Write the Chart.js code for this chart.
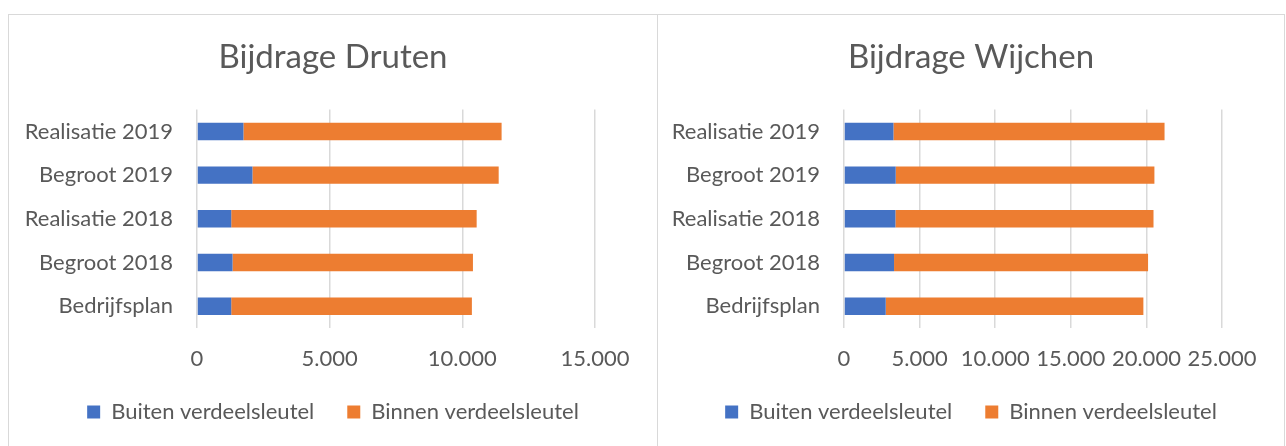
<!DOCTYPE html>
<html>
<head>
<meta charset="utf-8">
<script src="https://cdn.jsdelivr.net/npm/chart.js@4"></script>
<style>
  html, body { margin: 0; padding: 0; background: #fff; overflow: hidden; }
  .box { position: absolute; top: 14px; height: 445px; border: 1px solid #d9d9d9; background: #fff; }
  #boxDruten { left: 8px; width: 648px; }
  #boxWijchen { left: 657px; width: 626px; }
  canvas { display: block; }
</style>
</head>
<body>
<div class="box" id="boxDruten"><canvas id="chartDruten" width="648" height="431"></canvas></div>
<div class="box" id="boxWijchen"><canvas id="chartWijchen" width="626" height="431"></canvas></div>
<script>
const categories = ["Realisatie 2019", "Begroot 2019", "Realisatie 2018", "Begroot 2018", "Bedrijfsplan"];
const seriesNames = ["Buiten verdeelsleutel", "Binnen verdeelsleutel"];

const drutenBuiten = [1750, 2090, 1290, 1340, 1290];
const drutenBinnen = [9730, 9280, 9250, 9060, 9070];

const wijchenBuiten = [3270, 3420, 3400, 3310, 2760];
const wijchenBinnen = [17930, 17110, 17070, 16800, 17040];

const drutenAxisMax = 15000;
const wijchenAxisMax = 25000;
const axisStep = 5000;

const blue = "#4472C4";
const orange = "#ED7D31";
const textGrey = "#595959";
const gridGrey = "#d9d9d9";
const fontFamily = "Lato, 'Open Sans', sans-serif";

const formatThousands = (v) => String(v).replace(/\B(?=(\d{3})+(?!\d))/g, ".");

const makeChart = (canvasId, title, buiten, binnen, axisMax, axisWidth, rightGap) => {
  let ctx = document.getElementById(canvasId).getContext("2d");

  return new Chart(ctx, {
    type: "bar",
    data: {
      labels: categories,
      datasets: [
        {
          label: seriesNames[0],
          data: buiten,
          backgroundColor: blue,
          borderWidth: 0,
        },
        {
          label: seriesNames[1],
          data: binnen,
          backgroundColor: orange,
          borderWidth: 0,
        },
      ],
    },
    options: {
      indexAxis: "y",
      responsive: false,
      animation: false,
      maintainAspectRatio: false,
      layout: {
        padding: { left: 0, right: 0, top: 0, bottom: 13 },
      },
      datasets: {
        bar: {
          categoryPercentage: 1,
          barPercentage: 0.4,
        },
      },
      scales: {
        x: {
          stacked: true,
          min: 0,
          max: axisMax,
          border: { display: false },
          grid: {
            color: gridGrey,
            lineWidth: 1.5,
            drawTicks: false,
          },
          ticks: {
            stepSize: axisStep,
            color: textGrey,
            padding: 18,
            font: { family: fontFamily, size: 22 },
            callback: (value) => formatThousands(value),
          },
          afterFit: (scale) => {
            scale.height = 40;
          },
        },
        y: {
          stacked: true,
          border: { display: false },
          grid: { display: false, drawTicks: false },
          ticks: {
            color: textGrey,
            padding: 24,
            font: { family: fontFamily, size: 22 },
          },
          afterFit: (scale) => {
            scale.width = axisWidth;
          },
        },
        // empty right-hand axis, only keeps room right of the plot
        gap: {
          type: "linear",
          axis: "y",
          position: "right",
          border: { display: false },
          grid: { display: false, drawTicks: false },
          ticks: { display: false },
          afterFit: (scale) => {
            scale.width = rightGap;
          },
        },
      },
      plugins: {
        title: {
          display: true,
          text: title,
          color: textGrey,
          font: { family: fontFamily, size: 33, weight: "normal" },
          padding: { top: 23, bottom: 32 },
        },
        legend: {
          position: "bottom",
          labels: {
            color: textGrey,
            boxWidth: 13,
            boxHeight: 13,
            padding: 33,
            font: { family: fontFamily, size: 22 },
          },
        },
        tooltip: { enabled: false },
      },
    },
  });
};

window.drutenChart = makeChart("chartDruten", "Bijdrage Druten", drutenBuiten, drutenBinnen, drutenAxisMax, 188, 62);
window.wijchenChart = makeChart("chartWijchen", "Bijdrage Wijchen", wijchenBuiten, wijchenBinnen, wijchenAxisMax, 186, 62);
</script>
</body>
</html>
